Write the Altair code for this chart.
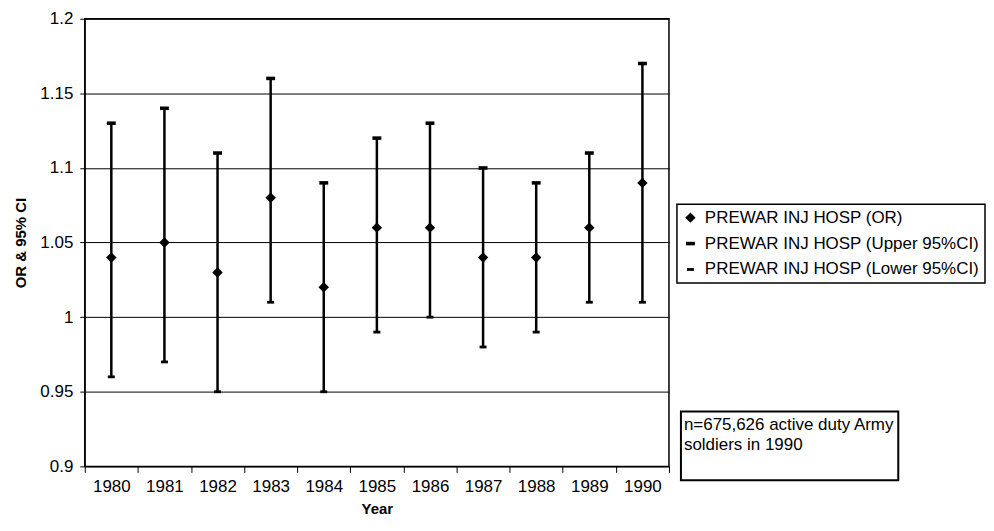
import altair as alt
import pandas as pd

years = ["1980", "1981", "1982", "1983", "1984", "1985", "1986", "1987", "1988", "1989", "1990"]
or_vals = [1.04, 1.05, 1.03, 1.08, 1.02, 1.06, 1.06, 1.04, 1.04, 1.06, 1.09]
upper_ci = [1.13, 1.14, 1.11, 1.16, 1.09, 1.12, 1.13, 1.10, 1.09, 1.11, 1.17]
lower_ci = [0.96, 0.97, 0.95, 1.01, 0.95, 0.99, 1.00, 0.98, 0.99, 1.01, 1.01]

series_names = [
    "PREWAR INJ HOSP (OR)",
    "PREWAR INJ HOSP (Upper 95%CI)",
    "PREWAR INJ HOSP (Lower 95%CI)",
]
y_ticks = [0.9, 0.95, 1.0, 1.05, 1.1, 1.15, 1.2]
note_text = ["n=675,626 active duty Army", "soldiers in 1990"]

FONT = "Arial, Liberation Sans"

wide = pd.DataFrame({"Year": years, "OR": or_vals, "Upper": upper_ci, "Lower": lower_ci})
long_rows = []
for i, y in enumerate(years):
    long_rows.append({"Year": y, "Series": series_names[0], "Value": or_vals[i]})
    long_rows.append({"Year": y, "Series": series_names[1], "Value": upper_ci[i]})
    long_rows.append({"Year": y, "Series": series_names[2], "Value": lower_ci[i]})
long = pd.DataFrame(long_rows)

x_enc = alt.X(
    "Year:O",
    sort=years,
    scale=alt.Scale(paddingInner=0, paddingOuter=0),
    axis=alt.Axis(
        title="Year",
        labelAngle=0,
        tickBand="extent",
        tickSize=6,
        labelPadding=6,
        labelFontSize=17,
        titleFontSize=15,
        titleFontWeight="bold",
        titlePadding=7,
        grid=False,
    ),
)
y_scale = alt.Scale(domain=[0.9, 1.2], nice=False, zero=False)

bars = alt.Chart(wide).mark_rule(color="black", strokeWidth=2.5).encode(
    x=x_enc,
    y=alt.Y(
        "Lower:Q",
        scale=y_scale,
        axis=alt.Axis(
            title="OR & 95% CI",
            values=y_ticks,
            format="~g",
            grid=True,
            tickSize=5,
            labelPadding=7,
            labelFontSize=17,
            titleFontSize=15,
            titleFontWeight="bold",
            titlePadding=11,
        ),
    ),
    y2="Upper:Q",
)

cap_path = "M-1,-0.4L1,-0.4L1,0.4L-1,0.4Z"
legend = alt.Legend(
    title=None,
    orient="none",
    legendX=594,
    legendY=186,
    labelFontSize=17,
    labelFont=FONT,
    labelColor="black",
    labelLimit=400,
    labelOffset=6,
    rowPadding=8,
    padding=5,
    strokeColor="black",
    symbolFillColor="black",
    symbolStrokeColor="black",
)
points = alt.Chart(long).mark_point(filled=True, color="black", opacity=1).encode(
    x=alt.X("Year:O", sort=years),
    y=alt.Y("Value:Q", scale=y_scale),
    shape=alt.Shape(
        "Series:N",
        scale=alt.Scale(domain=series_names, range=["diamond", cap_path, cap_path]),
        legend=legend,
    ),
    size=alt.Size(
        "Series:O",
        scale=alt.Scale(domain=series_names, range=[110, 49, 49]),
        legend=legend,
    ),
)

note_df = pd.DataFrame({"note": ["\n".join(note_text)]})
box = alt.Chart(note_df).mark_rect(fill="white", stroke="black", strokeWidth=2).encode(
    x=alt.value(598), x2=alt.value(816), y=alt.value(394), y2=alt.value(463)
)
note = alt.Chart(note_df).mark_text(
    align="left", baseline="middle", fontSize=17, font=FONT, color="black",
    lineBreak="\n", lineHeight=20,
).encode(x=alt.value(601), y=alt.value(408), text="note:N")

chart = (
    alt.layer(bars, points, box, note)
    .properties(width=586, height=449, padding={"left": 5, "top": 1, "right": 0, "bottom": 0})
    .configure_view(stroke="black", strokeWidth=1.5)
    .configure_axis(
        domainColor="black",
        tickColor="black",
        gridColor="black",
        gridWidth=1,
        labelColor="black",
        titleColor="black",
        labelFont=FONT,
        titleFont=FONT,
    )
    .configure_legend(strokeWidth=1.5)
)

chart.save("out.html", embed_options={"renderer": "svg", "actions": False})
